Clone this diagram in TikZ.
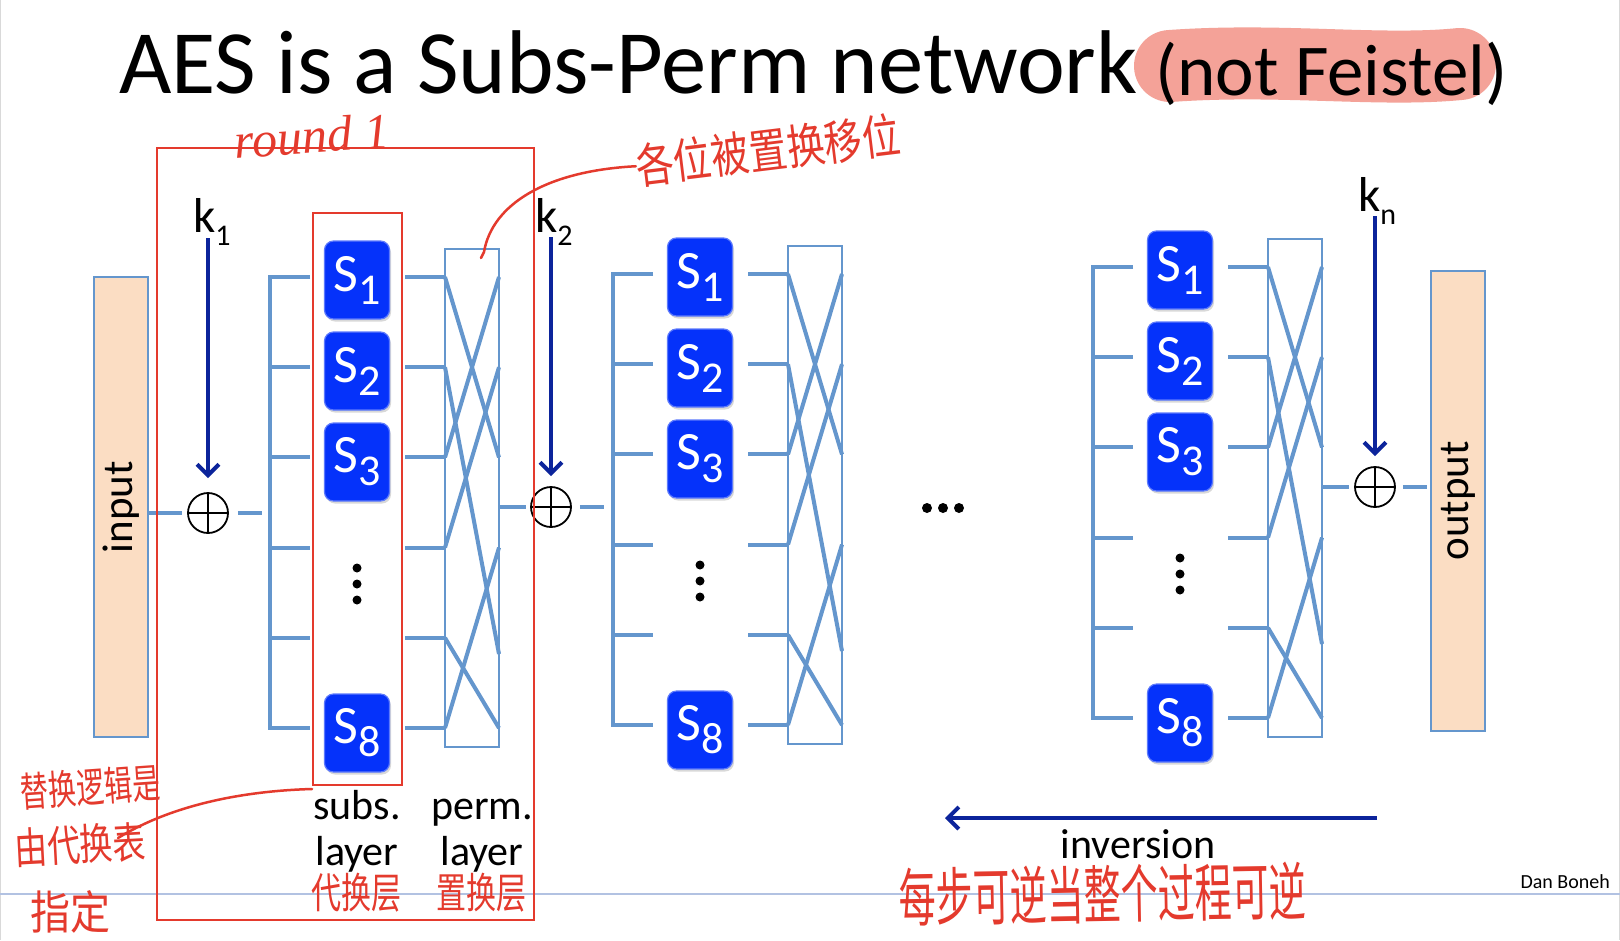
\documentclass[tikz,border=0pt]{standalone}
\usepackage{fontspec}
\setmainfont{Carlito}
\newfontfamily\cjk{Noto Sans CJK SC}
\newfontfamily\hand{Liberation Serif}
\usetikzlibrary{arrows.meta,positioning,calc,shadows}
\definecolor{wire}{RGB}{100,150,205}
\definecolor{sboxblue}{RGB}{5,50,250}
\definecolor{keyblue}{RGB}{12,36,155}
\definecolor{peach}{RGB}{251,221,195}
\definecolor{ink}{RGB}{228,58,45}
\definecolor{marker}{RGB}{244,162,152}
\definecolor{foot}{RGB}{178,194,226}
\tikzset{
  wire/.style={draw=wire, line width=4},
  bracket/.style={draw=wire, line width=4, line join=miter},
  permbox/.style={draw=wire, line width=1.5, minimum width=54, minimum height=498, inner sep=0},
  sbox/.style={draw=sboxblue!65!white, line width=1.2, fill=sboxblue, rounded corners=9pt,
    text=white, minimum width=65, minimum height=78, inner sep=0,
    font=\fontsize{54}{54}\selectfont,
    drop shadow={shadow xshift=1.5pt, shadow yshift=-2.5pt, opacity=0.3}},
  iobox/.style={draw=wire, line width=1.5, fill=peach, minimum width=54, minimum height=460, inner sep=0},
  iotext/.style={rotate=90, inner sep=0, font=\fontsize{43}{43}\selectfont},
  xorop/.style={circle, draw, line width=1.8, minimum size=40, inner sep=0,
    path picture={\draw[line width=1.8] (path picture bounding box.north) -- (path picture bounding box.south)
      (path picture bounding box.west) -- (path picture bounding box.east);}},
  keyarrow/.style={draw=keyblue, line width=4, -{Straight Barb[length=11pt, width=22pt]}},
  keylbl/.style={inner sep=0, anchor=base west, font=\fontsize{49}{49}\selectfont},
  lbl/.style={inner sep=0, anchor=base, font=\fontsize{42}{42}\selectfont},
  % red annotations
  redbox/.style={draw=ink, line width=2, inner sep=0},
  inkline/.style={draw=ink, line width=2.5, line cap=round},
  inktext/.style={text=ink, inner sep=0, font=\cjk}
}
\newcommand{\lowsub}[2]{\raisebox{-13pt}{\fontsize{#1}{#1}\selectfont #2}}
\newcommand{\tall}[2]{\scalebox{1}[#1]{#2}}

\begin{document}
\begin{tikzpicture}[x=1pt, y=-1pt]
  \useasboundingbox (0,0) rectangle (1620,940);
  \fill[white] (0,0) rectangle (1620,940);
  \draw[gray!30, line width=1] (0.5,0) -- (0.5,940) (1619.5,0) -- (1619.5,940);

  % title
  \draw[marker, line width=72, line cap=round] (1170,66) .. controls (1280,58) and (1380,72) .. (1460,64);
  \node[inner sep=0, anchor=base west, font=\fontsize{90.5}{100}\selectfont] (title) at (119,93) {AES is a Subs-Perm network};
  \node[inner sep=0, anchor=base west, font=\fontsize{73}{90}\selectfont] (notfeistel) at (1155,95) {(not Feistel)};

  % input / output
  \node[iobox] (input) at (121,507) {};
  \node[iotext] at (input.center) {input};
  \node[iobox] (output) at (1458,501) {};
  \node[iotext] at (output.center) {output};

  % three rounds
  \foreach \blk/\dx/\dy in {1/0/0, 2/343/-3, 3/823/-10} {
    \begin{scope}[shift={(\dx,\dy)}]
      \foreach \r in {1,...,6} {
        \pgfmathsetmacro\ry{277+90.2*(\r-1)}
        \coordinate (b\blk l\r) at (270,\ry);
        \coordinate (b\blk m\r) at (310,\ry);
        \coordinate (b\blk n\r) at (405,\ry);
        \coordinate (b\blk p\r) at (445,\ry);
        \coordinate (b\blk q\r) at (499,\ry);
      }
      \coordinate (b\blk q5) at (499,654);
      \node[permbox] (b\blk perm) at (472,498) {};
      \draw[bracket] (b\blk m1) -- (b\blk l1) -- (b\blk l6) -- (b\blk m6);
      \foreach \r in {2,...,5} \draw[wire] (b\blk l\r) -- (b\blk m\r);
      \foreach \r in {1,...,6} \draw[wire] (b\blk n\r) -- (b\blk p\r);
      \foreach \i/\j in {1/3, 3/1, 2/5, 4/2, 5/6, 6/4} \draw[wire] (b\blk p\i) -- (b\blk q\j);
      \node[sbox] (b\blk s1) at (357,280) {S\lowsub{44}{1}};
      \node[sbox] (b\blk s2) at (357,371) {S\lowsub{44}{2}};
      \node[sbox] (b\blk s3) at (357,462) {S\lowsub{44}{3}};
      \node[sbox] (b\blk s8) at (357,733) {S\lowsub{44}{8}};
      \foreach \t in {568,584,600} \fill (357,\t) circle (4.5);
    \end{scope}
  }

  % xor and keys
  \node[xorop] (xor1) at (208,513) {};
  \node[xorop] (xor2) at (551,507) {};
  \node[xorop] (xor3) at (1375,487) {};
  \coordinate (b1in) at (262,513);
  \coordinate (b2in) at (604,507);
  \draw[wire, shorten >=5] (input.east |- xor1) -- (xor1.west);
  \draw[wire, shorten <=9] (xor1.east) -- (b1in);
  \draw[wire, shorten >=4] (b1perm.east |- xor2) -- (xor2.west);
  \draw[wire, shorten <=8] (xor2.east) -- (b2in);
  \draw[wire, shorten >=5] (b3perm.east |- xor3) -- (xor3.west);
  \draw[wire, shorten <=7, shorten >=3] (xor3.east) -- (output.west |- xor3);

  \node[keylbl] (k1) at (193,232) {k\lowsub{30}{1}};
  \node[keylbl] (k2) at (535,232) {k\lowsub{30}{2}};
  \node[keylbl] (kn) at (1358,211) {k\lowsub{30}{n}};
  \coordinate (k1top) at (208,238);
  \coordinate (k2top) at (551,237);
  \coordinate (kntop) at (1375,216);
  \draw[keyarrow, shorten >=14] (k1top) -- (xor1.north);
  \draw[keyarrow, shorten >=10] (k2top) -- (xor2.north);
  \draw[keyarrow, shorten >=10] (kntop) -- (xor3.north);

  \foreach \t in {927,943,959} \fill (\t,508) circle (5);

  % layer labels and inversion
  \node[lbl] (subsA) at (357,819) {subs.};
  \node[lbl] (subsB) at (357,865) {layer};
  \node[lbl] (permA) at (482,819) {perm.};
  \node[lbl] (permB) at (482,865) {layer};
  \coordinate (invR) at (1377,818);
  \coordinate (invL) at (945,818);
  \draw[keyarrow] (invR) -- (invL);
  \node[lbl] (inversion) at (1138,858) {inversion};

  % footer
  \draw[foot, line width=1.5] (0,894) -- (1620,894);
  \node[inner sep=0, anchor=base east, font=\fontsize{20}{20}\selectfont] (author) at (1610,888) {Dan Boneh};

  % red handwriting
  \node[redbox, minimum width=377, minimum height=772] (round1) at (345.5,534) {};
  \node[redbox, minimum width=89, minimum height=572] (slayer) at (357.5,499) {};
  \node[text=ink, inner sep=0, font=\hand\itshape\fontsize{50}{50}\selectfont, rotate=4] (roundlbl) at (312,136) {round 1};
  \node[inktext, font=\cjk\fontsize{38}{38}\selectfont, rotate=7] (permnote) at (768,150) {\tall{1.25}{各位被置换移位}};
  \coordinate (hook) at (481,258);
  \draw[inkline] (hook) -- (484,252) .. controls (492,205) and (545,171) .. (permnote.west);
  \node[inktext, font=\cjk\fontsize{28}{28}\selectfont, rotate=4, anchor=west] (subnoteA) at (20,792) {\tall{1.45}{替换逻辑是}};
  \node[inktext, font=\cjk\fontsize{33}{33}\selectfont, rotate=3, anchor=west] (subnoteB) at (14,848) {\tall{1.3}{由代换表}};
  \node[inktext, font=\cjk\fontsize{40}{40}\selectfont, anchor=west] (subnoteC) at (30,912) {\tall{1.15}{指定}};
  \coordinate (subtail) at (118,838);
  \draw[inkline] (slayer.south west) ++(0,3) .. controls (240,791) and (170,806) .. (subtail);
  \node[inktext, font=\cjk\fontsize{30}{30}\selectfont] (subslayer) at (356,893) {\tall{1.4}{代换层}};
  \node[inktext, font=\cjk\fontsize{30}{30}\selectfont] (permlayer) at (481,893) {\tall{1.4}{置换层}};
  \node[inktext, font=\cjk\fontsize{37}{37}\selectfont, rotate=1] (invnote) at (1103,894) {\tall{1.7}{每步可逆当整个过程可逆}};
\end{tikzpicture}
\end{document}
